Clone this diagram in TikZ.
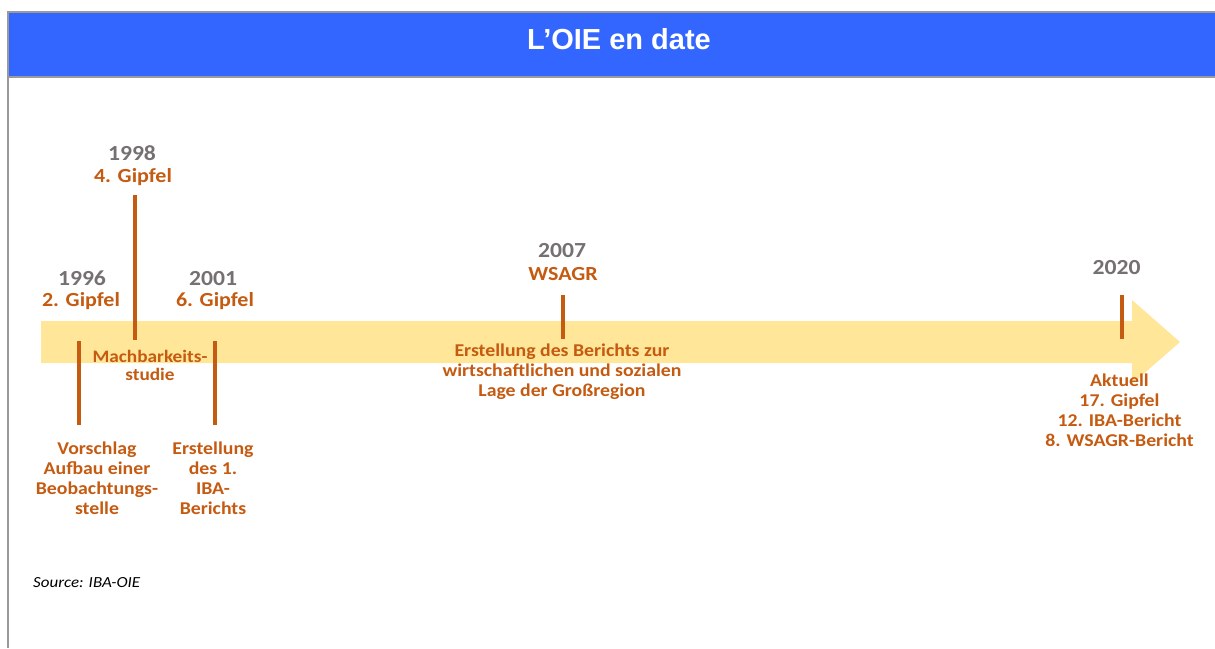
\documentclass[tikz,border=0pt]{standalone}
\usepackage{fontspec}
\setmainfont{Carlito}[FakeStretch=1.1]
\newfontfamily\titlefont{Liberation Sans}
\usepackage{tikz}
\definecolor{OBlue}{HTML}{3366FF}
\definecolor{OGold}{HTML}{FFE699}
\definecolor{OBrown}{HTML}{C55A11}
\definecolor{OGrey}{HTML}{767171}
\definecolor{OFrame}{HTML}{9A9A9A}

\begin{document}
\begin{tikzpicture}[x=1pt,y=-1pt,
  year/.style={anchor=base,text=OGrey,font=\bfseries\fontsize{21.5}{24}\selectfont},
  summit/.style={anchor=base,text=OBrown,font=\bfseries\fontsize{20}{22}\selectfont},
  note/.style={anchor=base,align=center,text=OBrown,font=\bfseries\fontsize{18}{20}\selectfont},
  tick/.style={OBrown,line width=4pt}]
  \useasboundingbox (0,0) rectangle (1215,648);
  % header
  \fill[OBlue] (8,12) rectangle (1215,77);
  \draw[OFrame,line width=2pt] (1215,12)--(8,12)--(8,648);
  \draw[OFrame,line width=2pt] (8,77)--(1215,77);
  \node[anchor=base,text=white,font=\titlefont\bfseries\fontsize{29}{32}\selectfont] (title) at (619,49) {L’OIE en date};
  % arrow
  \fill[OGold] (41,321)--(1132,321)--(1132,300)--(1180,342)--(1132,384)--(1132,363)--(41,363)--cycle;
  \foreach \n/\x/\a/\b in {t96/79/341/425,t98/135/195/340,t01/215/341/425,t07/563/295/339,t20/1122/295/339}{
    \coordinate (\n-a) at (\x,\a);
    \coordinate (\n-b) at (\x,\b);
    \draw[tick] (\n-a)--(\n-b);
  }
  \node[year] (y96) at (82,285) {1996};
  \node[summit] (s96) at (81,306.5) {2. Gipfel};
  \node[year] (y98) at (132,160) {1998};
  \node[summit] (s98) at (133,182.7) {4. Gipfel};
  \node[year] (y01) at (213,285) {2001};
  \node[summit] (s01) at (215,306.5) {6. Gipfel};
  \node[year] (y07) at (562,257.3) {2007};
  \node[summit] (s07) at (563,280.7) {WSAGR};
  \node[year] (y20) at (1116.5,274) {2020};
  % multi-line notes sit on their last baseline
  \node[note,font=\bfseries\fontsize{17.5}{17.5}\selectfont] (n98) at (150,380) {Machbarkeits-\\studie};
  \node[note] (n96) at (97,514) {Vorschlag\\Aufbau einer\\Beobachtungs-\\stelle};
  \node[note] (n01) at (213,514) {Erstellung\\des 1.\\IBA-\\Berichts};
  \node[note] (n07) at (562,396.7) {Erstellung des Berichts zur\\wirtschaftlichen und sozialen\\Lage der Großregion};
  \node[note] (n20) at (1119.5,446.7) {Aktuell\\17. Gipfel\\12. IBA-Bericht\\8. WSAGR-Bericht};
  \node[anchor=base west,inner sep=0pt,font=\itshape\fontsize{15.4}{16}\selectfont] (src) at (33,587) {Source: IBA-OIE};
\end{tikzpicture}
\end{document}
